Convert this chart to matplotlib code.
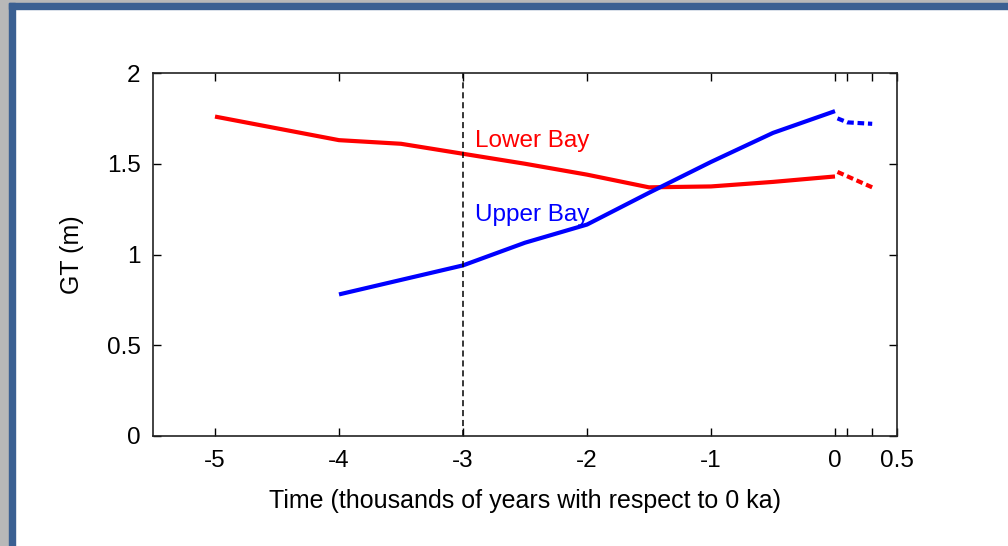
import matplotlib
matplotlib.use("Agg")
import matplotlib.pyplot as plt
from matplotlib.patches import Rectangle

plt.rcParams['font.family'] = ['Liberation Sans', 'DejaVu Sans']

# Data (time in thousands of years relative to 0 ka, GT in m)
lower_x = [-5.0, -4.0, -3.5, -3.0, -2.5, -2.0, -1.5, -1.0, -0.5, 0.0]
lower_y = [1.76, 1.63, 1.61, 1.555, 1.50, 1.44, 1.37, 1.375, 1.40, 1.43]
lower_proj_x = [0.02, 0.3]
lower_proj_y = [1.455, 1.37]

upper_x = [-4.0, -3.0, -2.5, -2.0, -1.5, -1.0, -0.5, 0.0]
upper_y = [0.78, 0.94, 1.065, 1.165, 1.34, 1.51, 1.67, 1.79]
upper_proj_x = [0.02, 0.1, 0.3]
upper_proj_y = [1.75, 1.728, 1.72]

xticks = [-5, -4, -3, -2, -1, 0, 0.1, 0.3, 0.5]
xticklabels = ['-5', '-4', '-3', '-2', '-1', '0', '', '', '0.5']
yticks = [0, 0.5, 1, 1.5, 2]
yticklabels = ['0', '0.5', '1', '1.5', '2']

W, H = 1008, 546
fig = plt.figure(figsize=(W / 100, H / 100), dpi=100)
fig.patch.set_facecolor('white')

# slide frame
grey = '#b8b8b8'
blue = '#3b6092'
fig.patches.append(Rectangle((0, 0), 9 / W, 1, transform=fig.transFigure, color=grey, zorder=0))
fig.patches.append(Rectangle((0, 1 - 3 / H), 1, 3 / H, transform=fig.transFigure, color=grey, zorder=0))
fig.patches.append(Rectangle((9 / W, 0), 5.5 / W, 1 - 3 / H, transform=fig.transFigure, color=blue, zorder=1))
fig.patches.append(Rectangle((9 / W, 1 - 8.5 / H), 1, 5.5 / H, transform=fig.transFigure, color=blue, zorder=1))

ax = fig.add_axes([153 / W, 1 - 436 / H, (897 - 153) / W, (436 - 73) / H])

ax.plot(lower_x, lower_y, color='#ff0000', lw=3.0, solid_capstyle='butt')
ax.plot(lower_proj_x, lower_proj_y, color='#ff0000', lw=3.0, ls=(0, (1.6, 0.9)))
ax.plot(upper_x, upper_y, color='#0000ff', lw=3.0, solid_capstyle='butt')
ax.plot(upper_proj_x, upper_proj_y, color='#0000ff', lw=3.0, ls=(0, (1.6, 0.9)))
ax.axvline(-3, color='black', lw=1.1, ls=(0, (4, 2.5)))

ax.text(-2.9, 1.595, 'Lower Bay', color='#ff0000', fontsize=17.5)
ax.text(-2.9, 1.185, 'Upper Bay', color='#0000ff', fontsize=17.5)

ax.set_xlim(-5.5, 0.5)
ax.set_ylim(0, 2)
ax.set_xticks(xticks)
ax.set_xticklabels(xticklabels)
ax.set_yticks(yticks)
ax.set_yticklabels(yticklabels)
ax.tick_params(direction='in', length=5.5, width=1.0, labelsize=17.5,
               top=True, right=True, colors='black')
ax.tick_params(axis='x', pad=10)
ax.tick_params(axis='y', pad=9)
for s in ax.spines.values():
    s.set_linewidth(1.2)
    s.set_color('#222222')

ax.set_xlabel('Time (thousands of years with respect to 0 ka)', fontsize=18, labelpad=12)
ax.set_ylabel('GT (m)', fontsize=18, labelpad=16)

fig.savefig('out.png', dpi=100, facecolor='white')
